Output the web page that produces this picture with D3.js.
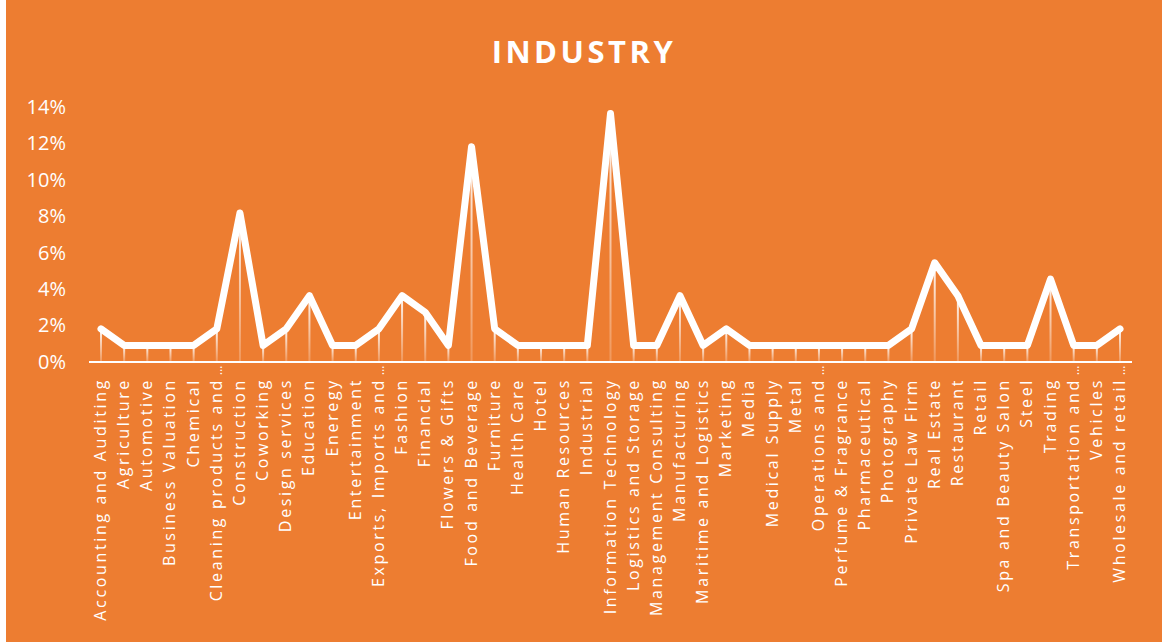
<!DOCTYPE html>
<html>
<head>
<meta charset="utf-8">
<script src="https://cdn.jsdelivr.net/npm/d3@7"></script>
<style>
  html, body { margin: 0; padding: 0; background: #ffffff; }
  svg { display: block; }
  text { font-family: "Open Sans", "Noto Sans", sans-serif; fill: #ffffff; }
</style>
</head>
<body>
<svg id="chart" width="1166" height="642"></svg>
<script>
// Share of companies by industry (%)
const categories = [
  "Accounting and Auditing", "Agriculture", "Automotive", "Business Valuation",
  "Chemical", "Cleaning products and …", "Construction", "Coworking",
  "Design services", "Education", "Eneregy", "Entertainment",
  "Exports, Imports and …", "Fashion", "Financial", "Flowers & Gifts",
  "Food and Beverage", "Furniture", "Health Care", "Hotel",
  "Human Resources", "Industrial", "Information Technology", "Logistics and Storage",
  "Management Consulting", "Manufacturing", "Maritime and Logistics", "Marketing",
  "Media", "Medical Supply", "Metal", "Operations and …",
  "Perfume & Fragrance", "Pharmaceutical", "Photography", "Private Law Firm",
  "Real Estate", "Restaurant", "Retail", "Spa and Beauty Salon",
  "Steel", "Trading", "Transportation and …", "Vehicles",
  "Wholesale and retail …"
];
const values = [
  1.82, 0.91, 0.91, 0.91,
  0.91, 1.82, 8.18, 0.91,
  1.82, 3.64, 0.91, 0.91,
  1.82, 3.64, 2.73, 0.91,
  11.82, 1.82, 0.91, 0.91,
  0.91, 0.91, 13.64, 0.91,
  0.91, 3.64, 0.91, 1.82,
  0.91, 0.91, 0.91, 0.91,
  0.91, 0.91, 0.91, 1.82,
  5.45, 3.64, 0.91, 0.91,
  0.91, 4.55, 0.91, 0.91,
  1.82
];
const yTicks = [0, 2, 4, 6, 8, 10, 12, 14];
const title = "INDUSTRY";

const W = 1166, H = 642;
const svg = d3.select("#chart");

// Orange chart area
svg.append("rect")
  .attr("x", 6).attr("y", 0)
  .attr("width", 1156).attr("height", H)
  .attr("fill", "#ED7D31");

const plot = { left: 89, right: 1132, top: 107, bottom: 362 };

const x = d3.scalePoint()
  .domain(categories)
  .range([101, 1120]);

const y = d3.scaleLinear()
  .domain([0, 14])
  .range([plot.bottom, plot.top]);

// Title
svg.append("text")
  .attr("x", 584).attr("y", 63)
  .attr("text-anchor", "middle")
  .attr("font-size", 31)
  .attr("font-weight", 700)
  .attr("letter-spacing", 3.5)
  .text(title);

// Y axis labels
const yAxis = d3.axisLeft(y)
  .tickValues(yTicks)
  .tickFormat(d => d + "%")
  .tickSize(0)
  .tickPadding(0);
const yg = svg.append("g")
  .attr("transform", "translate(66,0)")
  .call(yAxis);
yg.select(".domain").remove();
yg.selectAll("text")
  .attr("fill", "#ffffff")
  .attr("font-size", 20)
  .attr("font-family", "\"Open Sans\", \"Noto Sans\", sans-serif");

// Drop lines with fading gradient
const defs = svg.append("defs");
const grad = defs.append("linearGradient")
  .attr("id", "dropGrad")
  .attr("x1", 0).attr("y1", 0).attr("x2", 0).attr("y2", 1);
grad.append("stop").attr("offset", "0%").attr("stop-color", "#ffffff").attr("stop-opacity", 0.95);
grad.append("stop").attr("offset", "100%").attr("stop-color", "#ffffff").attr("stop-opacity", 0.2);

svg.append("g")
  .selectAll("rect")
  .data(categories)
  .join("rect")
  .attr("x", d => x(d) - 1)
  .attr("y", (d, i) => y(values[i]))
  .attr("width", 2)
  .attr("height", (d, i) => plot.bottom - y(values[i]))
  .attr("fill", "url(#dropGrad)");

// Baseline
svg.append("line")
  .attr("x1", plot.left).attr("x2", plot.right)
  .attr("y1", plot.bottom).attr("y2", plot.bottom)
  .attr("stroke", "#ffffff")
  .attr("stroke-width", 2);

// Series line
const line = d3.line()
  .x((d, i) => x(categories[i]))
  .y(d => y(d));
svg.append("path")
  .datum(values)
  .attr("d", line)
  .attr("fill", "none")
  .attr("stroke", "#ffffff")
  .attr("stroke-width", 7)
  .attr("stroke-linejoin", "round")
  .attr("stroke-linecap", "round");

// Category labels, rotated; truncated names get their ellipsis above the text start
const labelTop = plot.bottom + 16;
const lg = svg.append("g")
  .selectAll("g")
  .data(categories)
  .join("g")
  .attr("transform", d => `translate(${x(d) + 5},${labelTop}) rotate(-90)`);

lg.append("text")
  .attr("text-anchor", "end")
  .attr("font-size", 16)
  .attr("letter-spacing", 2.65)
  .text(d => d.replace(/\s*…$/, ""));

lg.filter(d => /…$/.test(d))
  .append("text")
  .attr("x", 3)
  .attr("text-anchor", "start")
  .attr("font-size", 12)
  .text("…");
</script>
</body>
</html>
